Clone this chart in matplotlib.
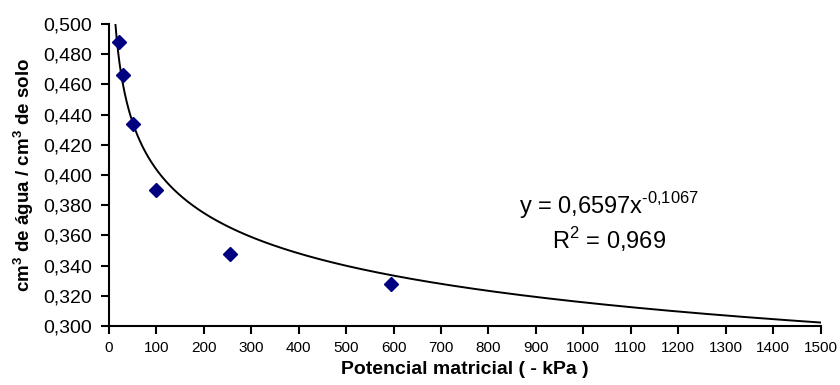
import numpy as np
import matplotlib
matplotlib.use("Agg")
import matplotlib.pyplot as plt

plt.rcParams['font.family'] = ['Liberation Sans', 'DejaVu Sans']
plt.rcParams['mathtext.fontset'] = 'custom'
plt.rcParams['mathtext.rm'] = 'Liberation Sans'
plt.rcParams['mathtext.bf'] = 'Liberation Sans:bold'

# observed data
potential_kpa = [20, 30, 50, 100, 255, 595]
water_content = [0.488, 0.466, 0.434, 0.390, 0.348, 0.328]

# power trendline coefficients (as shown on chart)
coef_a = 0.6597
coef_b = -0.1067
r_squared = "0,969"

x_ticks = list(range(0, 1501, 100))
y_ticks = [0.300, 0.320, 0.340, 0.360, 0.380, 0.400, 0.420, 0.440, 0.460, 0.480, 0.500]

fig = plt.figure(figsize=(8.4, 3.85), dpi=100)
ax = fig.add_axes([0.1298, 0.1532, 0.847, 0.7845])

xc = np.linspace(5, 1500, 1500)
yc = coef_a * xc ** coef_b
ax.plot(xc, yc, color='black', lw=1.4, zorder=2)
ax.plot(potential_kpa, water_content, linestyle='none', marker='D',
        markersize=7.5, color='#000080', zorder=3)

ax.set_xlim(0, 1500)
ax.set_ylim(0.300, 0.500)
ax.set_xticks(x_ticks)
ax.set_xticklabels([str(v) for v in x_ticks], fontsize=11)
ax.set_yticks(y_ticks)
ax.set_yticklabels([f"{v:.3f}".replace('.', ',') for v in y_ticks], fontsize=14)
ax.tick_params(axis='both', direction='out', length=6, width=1.5, color='black')
ax.tick_params(axis='x', pad=5)
ax.tick_params(axis='y', pad=6)

for s in ['top', 'right']:
    ax.spines[s].set_visible(False)
for s in ['left', 'bottom']:
    ax.spines[s].set_linewidth(1.5)

ax.set_xlabel('Potencial matricial ( - kPa )', fontsize=14, fontweight='bold', labelpad=4)
ax.set_ylabel(r'cm$^{\mathbf{3}}$ de água / cm$^{\mathbf{3}}$ de solo', fontsize=13.5,
              fontweight='bold', labelpad=5)

ax.text(0.703, 0.40, r'y = 0,6597x$^{\text{-0,1067}}$', transform=ax.transAxes,
        fontsize=17, ha='center', va='center')
ax.text(0.703, 0.285, f'R$^{{2}}$ = {r_squared}', transform=ax.transAxes,
        fontsize=17, ha='center', va='center')

fig.savefig('out.png', dpi=100)
